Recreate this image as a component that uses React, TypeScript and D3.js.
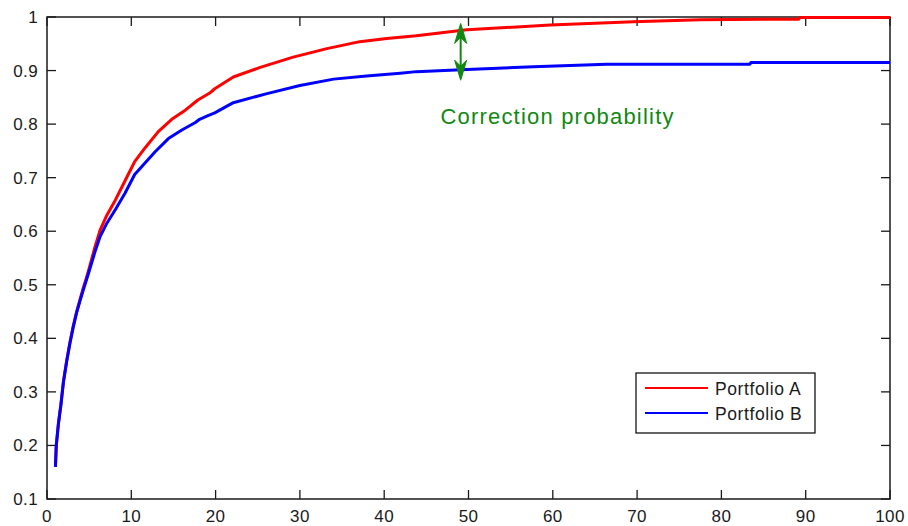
import React from "react";
import * as d3 from "d3";

const xA = [1, 1.1, 1.35, 1.65, 1.95, 2.35, 2.75, 3.1, 3.5, 3.9, 4.3, 4.6, 4.9, 5.7, 6.3, 7.1, 8.1, 8.9, 9.6, 10.4, 11.6, 13.2, 14.8, 16.4, 17.9, 19.3, 19.9, 22.1, 25.3, 29.2, 33.2, 37.1, 40.3, 43.8, 49.8, 59.7, 69.6, 77.5, 89.2, 89.3, 100];
const yA = [0.16, 0.2, 0.24, 0.276, 0.32, 0.36, 0.395, 0.422, 0.449, 0.472, 0.494, 0.509, 0.525, 0.571, 0.602, 0.63, 0.658, 0.683, 0.705, 0.73, 0.755, 0.786, 0.809, 0.826, 0.845, 0.858, 0.866, 0.888, 0.906, 0.925, 0.941, 0.954, 0.96, 0.965, 0.976, 0.985, 0.991, 0.995, 0.996, 0.999, 0.999];

const xB = [1, 1.1, 1.35, 1.65, 1.95, 2.35, 2.75, 3.1, 3.5, 3.9, 4.3, 4.9, 5.7, 6.3, 7.1, 8.1, 9.25, 10.4, 11.6, 12.8, 14.4, 16, 17.6, 18.1, 19.1, 19.9, 22.1, 26.1, 30, 34, 37.9, 41.9, 43.8, 49.8, 57.7, 66.4, 83.4, 83.5, 100];
const yB = [0.16, 0.2, 0.24, 0.276, 0.318, 0.358, 0.393, 0.42, 0.447, 0.469, 0.49, 0.52, 0.562, 0.59, 0.615, 0.64, 0.671, 0.706, 0.727, 0.748, 0.773, 0.789, 0.803, 0.809, 0.816, 0.821, 0.84, 0.857, 0.872, 0.884, 0.89, 0.895, 0.898, 0.902, 0.907, 0.912, 0.912, 0.915, 0.915];

const xTicks = [0, 10, 20, 30, 40, 50, 60, 70, 80, 90, 100];
const yTicks = [0.1, 0.2, 0.3, 0.4, 0.5, 0.6, 0.7, 0.8, 0.9, 1];
const yTickLabels = ["0.1", "0.2", "0.3", "0.4", "0.5", "0.6", "0.7", "0.8", "0.9", "1"];

const seriesNames = ["Portfolio A", "Portfolio B"];
const seriesColors = ["#ff0000", "#0000ff"];

const arrowX = 49.07;
const arrowTop = 0.988;
const arrowBottom = 0.882;
const annotationText = "Correction probability";
const annotationX = 60.56;
const annotationY = 0.801;

const W = 908;
const H = 526;
const M = { left: 47, top: 17, right: 18, bottom: 27 };
const FONT = "'Liberation Sans', Arial, Helvetica, sans-serif";

export default function App() {
  const x = d3.scaleLinear().domain([0, 100]).range([M.left, W - M.right]);
  const y = d3.scaleLinear().domain([0.1, 1]).range([H - M.bottom, M.top]);
  const mk = (xs: number[], ys: number[]) =>
    d3
      .line<number>()
      .x((_, i) => x(xs[i]))
      .y((_, i) => y(ys[i]))(xs) || "";

  const x0 = x(0), x1 = x(100), y0 = y(0.1), y1 = y(1);
  const tick = 9;
  const axisColor = "#1a1a1a";

  const ax = x(arrowX);
  const at = y(arrowTop);
  const ab = y(arrowBottom);
  const hl = 20, hw = 6, notch = 6;
  const green = "#118811";

  const legX = 636, legY = 373, legW = 179, legH = 60;

  return (
    <svg
      width={W}
      height={H}
      style={{ position: "absolute", left: 0, top: 0, background: "#fff" }}
      fontFamily={FONT}
    >
      <rect x={0} y={0} width={W} height={H} fill="#fff" />
      {xTicks.map((t) => (
        <g key={"xt" + t}>
          <line x1={x(t)} x2={x(t)} y1={y0} y2={y0 - tick} stroke={axisColor} strokeWidth={1.3} />
          <line x1={x(t)} x2={x(t)} y1={y1} y2={y1 + tick} stroke={axisColor} strokeWidth={1.3} />
          <text x={x(t)} y={y0 + 23} textAnchor="middle" fontSize={17} fill="#1a1a1a" letterSpacing={0.4}>
            {t}
          </text>
        </g>
      ))}
      {yTicks.map((t, i) => (
        <g key={"yt" + t}>
          <line x1={x0} x2={x0 + tick} y1={y(t)} y2={y(t)} stroke={axisColor} strokeWidth={1.3} />
          <line x1={x1} x2={x1 - tick} y1={y(t)} y2={y(t)} stroke={axisColor} strokeWidth={1.3} />
          <text x={x0 - 9} y={y(t) + 6} textAnchor="end" fontSize={17} fill="#1a1a1a" letterSpacing={0.4}>
            {yTickLabels[i]}
          </text>
        </g>
      ))}
      <rect x={x0} y={y1} width={x1 - x0} height={y0 - y1} fill="none" stroke={axisColor} strokeWidth={1.5} />

      <path d={mk(xA, yA)} fill="none" stroke={seriesColors[0]} strokeWidth={3} strokeLinejoin="round" />
      <path d={mk(xB, yB)} fill="none" stroke={seriesColors[1]} strokeWidth={3} strokeLinejoin="round" />

      <line x1={ax} x2={ax} y1={at + 8} y2={ab - 8} stroke={green} strokeWidth={2} />
      <path
        d={`M${ax},${at} L${ax + hw},${at + hl} L${ax},${at + hl - notch} L${ax - hw},${at + hl} Z`}
        fill={green}
        stroke={green}
        strokeWidth={1}
      />
      <path
        d={`M${ax},${ab} L${ax + hw},${ab - hl} L${ax},${ab - hl + notch} L${ax - hw},${ab - hl} Z`}
        fill={green}
        stroke={green}
        strokeWidth={1}
      />
      <text x={x(annotationX)} y={y(annotationY)} textAnchor="middle" fontSize={22} fill={green} letterSpacing={1.2}>
        {annotationText}
      </text>

      <rect x={legX} y={legY} width={legW} height={legH} fill="#fff" stroke="#000" strokeWidth={1.2} />
      {seriesNames.map((n, i) => (
        <g key={n}>
          <line
            x1={legX + 9}
            x2={legX + 72}
            y1={legY + 15 + i * 25}
            y2={legY + 15 + i * 25}
            stroke={seriesColors[i]}
            strokeWidth={2}
          />
          <text x={legX + 79} y={legY + 21.5 + i * 25} fontSize={17.5} fill="#1a1a1a" letterSpacing={0.6}>
            {n}
          </text>
        </g>
      ))}
    </svg>
  );
}
